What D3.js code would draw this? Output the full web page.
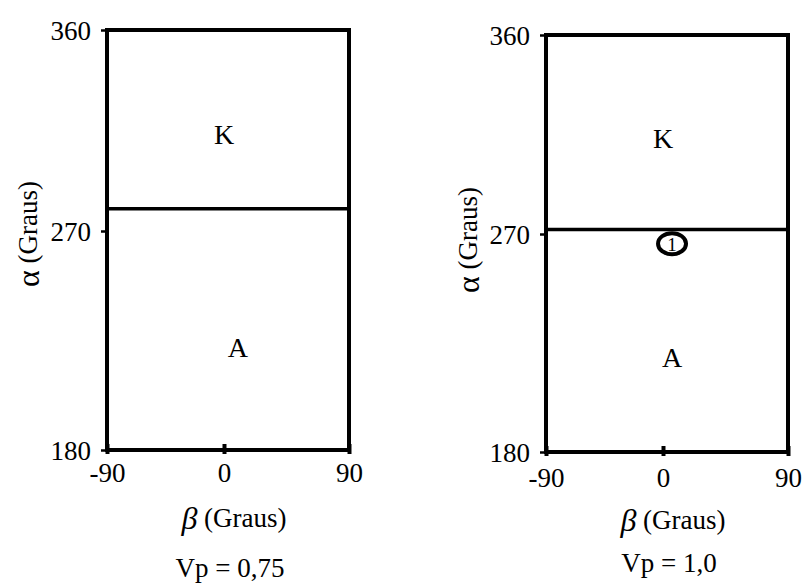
<!DOCTYPE html>
<html><head><meta charset="utf-8">
<script src="https://cdn.jsdelivr.net/npm/d3@7"></script>
<style>
body{margin:0;background:#fff;}
svg{display:block;}
text{font-family:"Liberation Serif","DejaVu Serif",serif;fill:#000;}
</style></head>
<body>
<svg id="chart" width="809" height="585"></svg>
<script>
// ---- data ----
const panelTitles = ["Vp = 0,75", "Vp = 1,0"];
const betaTicks = [-90, 0, 90];
const alphaTicks = [180, 270, 360];
const xSymbol = "β", ySymbol = "α";
const axisUnit = "(Graus)";
const boundaryAlpha = [280, 272];          // K/A boundary per panel
const regionNames = ["K", "A"];
const regionBeta = [[0, 10], [0, 6.5]];
const regionAlpha = [[313, 222], [313, 219]];
const markerBeta = [null, 6.5];
const markerAlpha = [null, 266];
const markerText = ["", "1"];

// ---- layout (pixel geometry only) ----
const layout = [
  {x: [107, 224, 349], y: [450, 231, 30], ylab: [28, 234], xlab: 518, title: 568, tickPad: 9},
  {x: [546, 663, 788], y: [452, 234, 35], ylab: [468, 240], xlab: 520, title: 563, tickPad: 12}
];
const FS = 27;

const svg = d3.select("#chart");

layout.forEach((L, i) => {
  const x = d3.scaleLinear().domain(betaTicks).range(L.x);
  const y = d3.scaleLinear().domain(alphaTicks).range(L.y);
  const g = svg.append("g");

  // left axis
  const ya = g.append("g").attr("transform", `translate(${L.x[0]},0)`)
    .call(d3.axisLeft(y).tickValues(alphaTicks).tickSize(6).tickPadding(10).tickFormat(d => String(d)));
  ya.select(".domain").remove();
  ya.selectAll(".tick line").attr("stroke", "#000").attr("stroke-width", 2.5);
  ya.selectAll(".tick text").attr("font-size", FS).attr("font-family", "Liberation Serif").attr("dy", "0.34em");

  // bottom axis
  const xa = g.append("g").attr("transform", `translate(0,${L.y[0]})`)
    .call(d3.axisBottom(x).tickValues(betaTicks).tickSize(4).tickPadding(L.tickPad).tickFormat(d => String(d)));
  xa.select(".domain").remove();
  xa.selectAll(".tick line").attr("stroke", "#000").attr("stroke-width", 4).attr("y1", -6).attr("y2", 4);
  xa.selectAll(".tick text").attr("font-size", FS).attr("font-family", "Liberation Serif");

  // frame
  g.append("rect")
    .attr("x", x(-90)).attr("y", y(360))
    .attr("width", x(90) - x(-90)).attr("height", y(180) - y(360))
    .attr("fill", "none").attr("stroke", "#000").attr("stroke-width", 4);

  // boundary
  g.append("line")
    .attr("x1", x(-90)).attr("x2", x(90))
    .attr("y1", y(boundaryAlpha[i])).attr("y2", y(boundaryAlpha[i]))
    .attr("stroke", "#000").attr("stroke-width", 3.5);

  // region labels
  regionNames.forEach((n, j) => {
    g.append("text").attr("x", x(regionBeta[i][j])).attr("y", y(regionAlpha[i][j]))
      .attr("text-anchor", "middle").attr("dominant-baseline", "central")
      .attr("font-size", 28).text(n);
  });

  // marker
  if (markerBeta[i] !== null) {
    g.append("ellipse").attr("cx", x(markerBeta[i])).attr("cy", y(markerAlpha[i]))
      .attr("rx", 14).attr("ry", 10.5).attr("fill", "#fff")
      .attr("stroke", "#000").attr("stroke-width", 4);
    g.append("text").attr("x", x(markerBeta[i])).attr("y", y(markerAlpha[i]) + 1)
      .attr("text-anchor", "middle").attr("dominant-baseline", "central")
      .attr("font-size", 19).text(markerText[i]);
  }

  // y label
  const yl = g.append("text")
    .attr("transform", `translate(${L.ylab[0]},${L.ylab[1]}) rotate(-90)`)
    .attr("text-anchor", "middle").attr("dominant-baseline", "central")
    .attr("font-size", FS);
  yl.append("tspan").attr("font-size", 32).text(ySymbol);
  yl.append("tspan").text(" " + axisUnit);

  // x label
  const xl = g.append("text").attr("x", x(0) + 10).attr("y", L.xlab)
    .attr("text-anchor", "middle").attr("dominant-baseline", "central")
    .attr("font-size", FS);
  xl.append("tspan").attr("font-size", 32).attr("font-style", "italic").text(xSymbol);
  xl.append("tspan").text(" " + axisUnit);

  // title
  g.append("text").attr("x", x(0) + 6).attr("y", L.title)
    .attr("text-anchor", "middle").attr("dominant-baseline", "central")
    .attr("font-size", FS).text(panelTitles[i]);
});
</script>
</body></html>
